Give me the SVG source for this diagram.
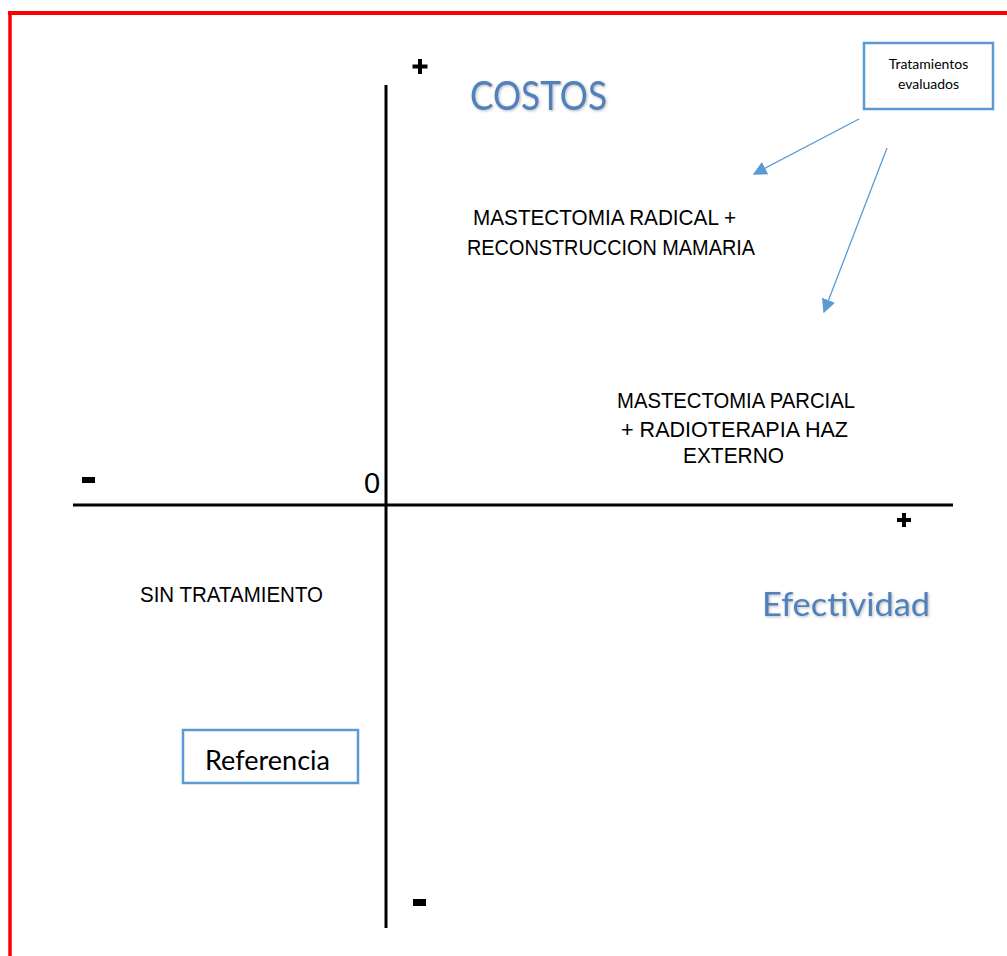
<svg xmlns="http://www.w3.org/2000/svg" width="1007" height="956" viewBox="0 0 1007 956">
<style>
.lbl{font-family:"Liberation Sans",Arial,sans-serif;font-size:21.5px;fill:#000}
.ax{stroke:#000;stroke-width:3;fill:none}
.blue{font-family:Lato,"Open Sans",sans-serif;fill:#4F81BD}
.box{fill:#fff;stroke:#5B9BD5;stroke-width:2.5}
.conn{stroke:#5B9BD5;stroke-width:1.3;fill:none}
.sign{fill:#000}
</style>
<defs>
<marker id="ah" viewBox="0 0 10 10" refX="9" refY="5" markerWidth="14" markerHeight="14" markerUnits="userSpaceOnUse" orient="auto">
<path d="M0,0 L10,5 L0,10 z" fill="#5B9BD5"/>
</marker>
<filter id="sh" x="-10%" y="-20%" width="120%" height="140%">
<feGaussianBlur in="SourceAlpha" stdDeviation="1.5"/>
<feOffset dx="1" dy="1" result="b"/>
<feFlood flood-color="#888" flood-opacity="0.6"/>
<feComposite in2="b" operator="in"/>
<feMerge><feMergeNode/><feMergeNode in="SourceGraphic"/></feMerge>
</filter>
</defs>
<rect width="1007" height="956" fill="#fff"/>
<g id="frame">
<line x1="8" y1="13" x2="1007" y2="13" stroke="#f00" stroke-width="4"/>
<line x1="10" y1="12" x2="10" y2="956" stroke="#f00" stroke-width="3.5"/>
</g>
<g id="axes">
<line class="ax" x1="73" y1="505" x2="953" y2="505"/>
<line class="ax" x1="386" y1="85" x2="386" y2="928"/>
<rect class="sign" x="412.5" y="64.5" width="15" height="4"/>
<rect class="sign" x="418" y="59" width="4" height="15"/>
<rect class="sign" x="897" y="518" width="14" height="4"/>
<rect class="sign" x="902" y="513" width="4" height="14"/>
<rect class="sign" x="82" y="477" width="13" height="6"/>
<rect class="sign" x="413" y="899" width="13" height="7"/>
<text x="364" y="493" font-family="'Liberation Sans',Arial,sans-serif" font-size="29" fill="#000">0</text>
</g>
<g id="titles">
<text class="blue" x="470" y="110" font-size="40" textLength="137" lengthAdjust="spacingAndGlyphs" filter="url(#sh)">COSTOS</text>
<text class="blue" x="762" y="616" font-size="33" textLength="168" lengthAdjust="spacingAndGlyphs" filter="url(#sh)">Efectividad</text>
</g>
<g id="node-radical">
<text class="lbl" x="473" y="225" textLength="263" lengthAdjust="spacingAndGlyphs">MASTECTOMIA RADICAL +</text>
<text class="lbl" x="467" y="255" textLength="288" lengthAdjust="spacingAndGlyphs">RECONSTRUCCION MAMARIA</text>
</g>
<g id="node-parcial">
<text class="lbl" x="617" y="408" textLength="238" lengthAdjust="spacingAndGlyphs">MASTECTOMIA PARCIAL</text>
<text class="lbl" x="621" y="437" textLength="227" lengthAdjust="spacingAndGlyphs">+ RADIOTERAPIA HAZ</text>
<text class="lbl" x="683" y="463" textLength="101" lengthAdjust="spacingAndGlyphs">EXTERNO</text>
</g>
<g id="node-sin">
<text class="lbl" x="140" y="602" font-size="20" textLength="183" lengthAdjust="spacingAndGlyphs">SIN TRATAMIENTO</text>
</g>
<g id="node-tratamientos">
<rect class="box" x="864" y="43" width="129" height="66"/>
<text x="928.5" y="69" text-anchor="middle" font-family="Lato,'Open Sans',sans-serif" font-size="14" fill="#000">Tratamientos</text>
<text x="928.5" y="89" text-anchor="middle" font-family="Lato,'Open Sans',sans-serif" font-size="14" fill="#000">evaluados</text>
</g>
<g id="node-referencia">
<rect class="box" x="183" y="730" width="175" height="53"/>
<text x="205" y="770" font-family="Lato,'Open Sans',sans-serif" font-size="26" fill="#000" textLength="125" lengthAdjust="spacingAndGlyphs">Referencia</text>
</g>
<g id="connectors">
<line class="conn" x1="859" y1="119" x2="754" y2="174" marker-end="url(#ah)"/>
<line class="conn" x1="887" y1="148" x2="824" y2="312" marker-end="url(#ah)"/>
</g>
</svg>
